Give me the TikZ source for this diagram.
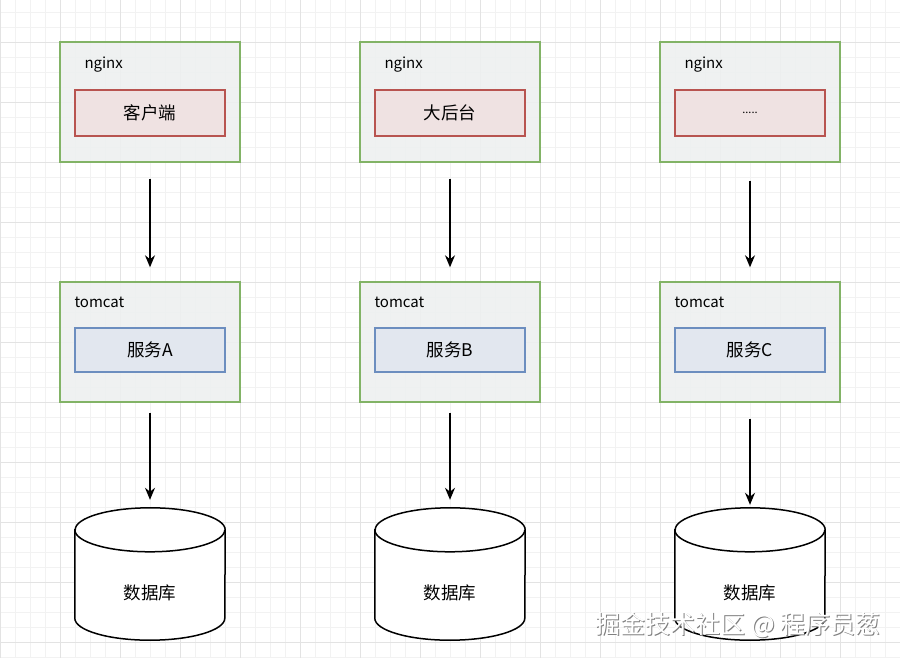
\documentclass[tikz,border=0pt]{standalone}
\usepackage{fontspec}
\setmainfont{Noto Sans CJK SC}
\usetikzlibrary{positioning,arrows.meta}
\definecolor{hostgreen}{HTML}{82B366}
\definecolor{hostfill}{HTML}{EDF0F0}
\definecolor{sitered}{HTML}{B85450}
\definecolor{sitefill}{HTML}{EFE2E2}
\definecolor{svcblue}{HTML}{6C8EBF}
\definecolor{svcfill}{HTML}{E2E7EF}
\newcommand{\dbdrum}[1]{%
  \draw[dbline] ([yshift=-22pt]#1.north west) -- ([yshift=22pt]#1.south west)
    arc[start angle=180, end angle=360, x radius=75pt, y radius=22pt]
    -- ([yshift=-22pt]#1.north east)
    arc[start angle=0, end angle=180, x radius=75pt, y radius=22pt] -- cycle;
  \draw[dbline, fill=none] ([yshift=-22pt]#1.north west)
    arc[start angle=180, end angle=360, x radius=75pt, y radius=22pt];}

\begin{document}
\begin{tikzpicture}[x=1pt, y=1pt,
    minorgrid/.style = {draw=black!5, line width=0.6pt},
    majorgrid/.style = {draw=black!11, line width=0.7pt},
    host/.style = {draw=hostgreen, line width=1.4pt, fill=hostfill, fill opacity=0.9, minimum width=180pt, minimum height=120pt, inner sep=0pt},
    site/.style = {draw=sitered, line width=1.2pt, fill=sitefill, minimum width=150pt, minimum height=46pt, inner sep=0pt, font=\fontsize{17.5}{20}\selectfont},
    svc/.style = {draw=svcblue, line width=1.2pt, fill=svcfill, minimum width=150pt, minimum height=44pt, inner sep=0pt, font=\fontsize{17.5}{20}\selectfont},
    tag/.style = {anchor=west, inner sep=0pt, font=\fontsize{15}{17}\selectfont},
    db/.style = {minimum width=150pt, minimum height=132pt, inner sep=0pt},
    dbline/.style = {line width=1.5pt, fill=white},
    dbtext/.style = {font=\fontsize{17.5}{20}\selectfont},
    flow/.style = {-{Stealth[length=12pt, width=10pt]}, line width=1.4pt},
    wmshade/.style = {text=black!50, font=\fontsize{25}{28}\selectfont},
    wmtext/.style = {text=white, font=\fontsize{25}{28}\selectfont}]
  \useasboundingbox (0,0) rectangle (900,-658);
  \begin{scope}
    \clip (0,0) rectangle (900,-658);
    \draw[minorgrid, yshift=3pt] (0,-675) grid[step=15pt] (900,0);
    \draw[majorgrid, yshift=18pt] (0,-720) grid[step=60pt] (900,0);
  \end{scope}
  % column 1
  \node[host] (ng1) at (150,-102) {};
  \node[tag] (ngt1) at ([xshift=25pt, yshift=-23pt]ng1.north west) {nginx};
  \node[site] (web1) at (150,-113) {客户端};
  \node[host] (tc1) at (150,-342) {};
  \node[tag] (tct1) at ([xshift=15pt, yshift=-21pt]tc1.north west) {tomcat};
  \node[svc] (svc1) at (150,-350) {服务A};
  \node[db] (db1) at (150,-574) {};
  \dbdrum{db1}
  \node[dbtext] (dbt1) at ([yshift=-19pt]db1.center) {数据库};
  \draw[flow, shorten <=16pt, shorten >=14pt] (ng1) -- (tc1);
  \draw[flow, shorten <=10pt, shorten >=8pt] (tc1) -- (db1);
  % column 2
  \node[host] (ng2) at (450,-102) {};
  \node[tag] (ngt2) at ([xshift=25pt, yshift=-23pt]ng2.north west) {nginx};
  \node[site] (web2) at (450,-113) {大后台};
  \node[host] (tc2) at (450,-342) {};
  \node[tag] (tct2) at ([xshift=15pt, yshift=-21pt]tc2.north west) {tomcat};
  \node[svc] (svc2) at (450,-350) {服务B};
  \node[db] (db2) at (450,-574) {};
  \dbdrum{db2}
  \node[dbtext] (dbt2) at ([yshift=-19pt]db2.center) {数据库};
  \draw[flow, shorten <=16pt, shorten >=14pt] (ng2) -- (tc2);
  \draw[flow, shorten <=10pt, shorten >=8pt] (tc2) -- (db2);
  % column 3
  \node[host] (ng3) at (750,-102) {};
  \node[tag] (ngt3) at ([xshift=25pt, yshift=-23pt]ng3.north west) {nginx};
  \node[site, font=\fontsize{11}{13}\selectfont] (web3) at (750,-113) {.....};
  \node[host] (tc3) at (750,-342) {};
  \node[tag] (tct3) at ([xshift=15pt, yshift=-21pt]tc3.north west) {tomcat};
  \node[svc] (svc3) at (750,-350) {服务C};
  \node[db] (db3) at (750,-574) {};
  \dbdrum{db3}
  \node[dbtext] (dbt3) at ([yshift=-19pt]db3.center) {数据库};
  \draw[flow, shorten <=18pt, shorten >=14pt] (ng3) -- (tc3);
  \draw[flow, shorten <=16pt, shorten >=3pt] (tc3) -- (db3);
  % watermark
  \node[wmshade] (wm0) at (739.2,-626.2) {掘金技术社区 @ 程序员葱};
  \node[wmtext] (wm) at (738,-625) {掘金技术社区 @ 程序员葱};
\end{tikzpicture}
\end{document}
